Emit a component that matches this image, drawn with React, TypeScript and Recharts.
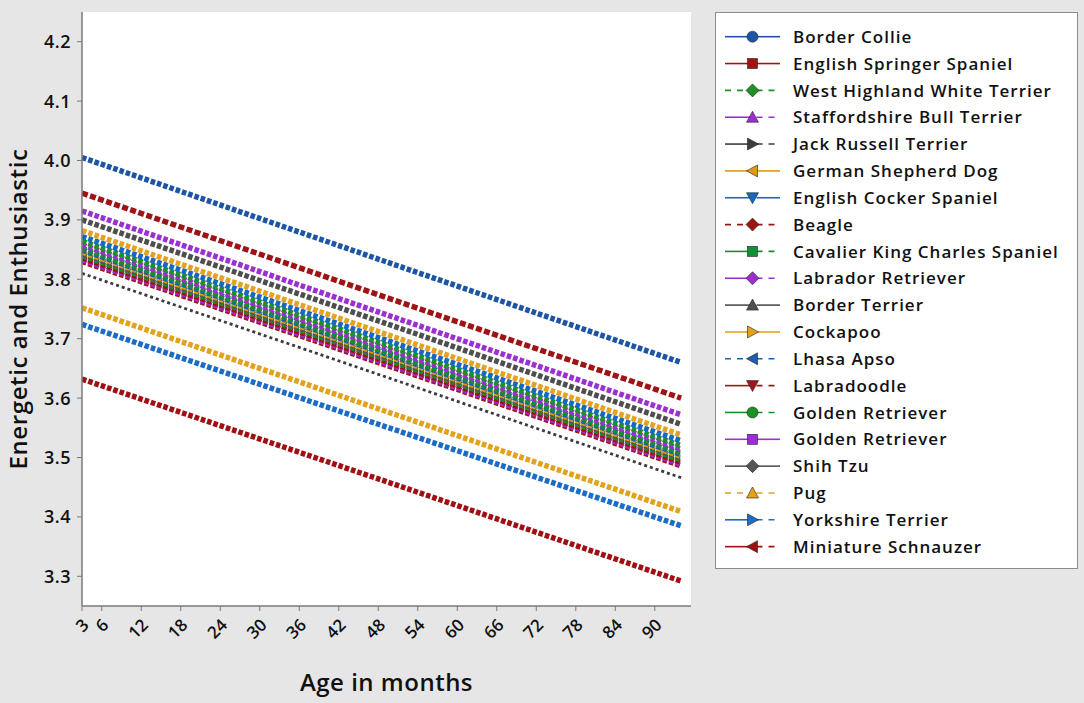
import React from 'react';
import { LineChart, Line, XAxis, YAxis, CartesianGrid, Legend } from 'recharts';

// ---- data ----
const AGES = [3, 48, 94];
const X_TICKS = [3, 6, 12, 18, 24, 30, 36, 42, 48, 54, 60, 66, 72, 78, 84, 90];
const Y_TICKS = [3.3, 3.4, 3.5, 3.6, 3.7, 3.8, 3.9, 4.0, 4.1, 4.2];

const borderCollie = [4.005, 3.834, 3.66];
const englishSpringer = [3.945, 3.774, 3.6];
const westHighland = [3.864, 3.694, 3.52];
const staffordshire = [3.915, 3.745, 3.572];
const jackRussell = [3.81, 3.64, 3.466];
const germanShepherd = [3.846, 3.676, 3.502];
const englishCocker = [3.872, 3.702, 3.528];
const beagle = [3.836, 3.666, 3.492];
const cavalier = [3.852, 3.682, 3.508];
const labrador = [3.858, 3.688, 3.514];
const borderTerrier = [3.9, 3.73, 3.556];
const cockapoo = [3.882, 3.712, 3.538];
const lhasaApso = [3.849, 3.679, 3.505];
const labradoodle = [3.83, 3.66, 3.486];
const goldenGreen = [3.84, 3.67, 3.496];
const goldenPurple = [3.833, 3.663, 3.489];
const shihTzu = [3.843, 3.673, 3.499];
const pug = [3.752, 3.582, 3.409];
const yorkshire = [3.724, 3.556, 3.385];
const miniSchnauzer = [3.632, 3.464, 3.292];

type Marker = 'circle' | 'square' | 'diamond' | 'up' | 'down' | 'left' | 'right';
type LegLine = 'solid' | 'dash' | 'solidDash';

interface S {
  key: string;
  name: string;
  color: string;
  values: number[];
  marker: Marker;
  leg: LegLine;
}

const SERIES: S[] = [
  { key: 's1', name: 'Border Collie', color: '#1d55a6', values: borderCollie, marker: 'circle', leg: 'solid' },
  { key: 's2', name: 'English Springer Spaniel', color: '#9e1414', values: englishSpringer, marker: 'square', leg: 'solid' },
  { key: 's3', name: 'West Highland White Terrier', color: '#1f8f2a', values: westHighland, marker: 'diamond', leg: 'dash' },
  { key: 's4', name: 'Staffordshire Bull Terrier', color: '#9b2fd2', values: staffordshire, marker: 'up', leg: 'solidDash' },
  { key: 's5', name: 'Jack Russell Terrier', color: '#3c3c3c', values: jackRussell, marker: 'right', leg: 'solidDash' },
  { key: 's6', name: 'German Shepherd Dog', color: '#e09a12', values: germanShepherd, marker: 'left', leg: 'solid' },
  { key: 's7', name: 'English Cocker Spaniel', color: '#1767c4', values: englishCocker, marker: 'down', leg: 'solid' },
  { key: 's8', name: 'Beagle', color: '#9a1616', values: beagle, marker: 'diamond', leg: 'dash' },
  { key: 's9', name: 'Cavalier King Charles Spaniel', color: '#178c34', values: cavalier, marker: 'square', leg: 'solidDash' },
  { key: 's10', name: 'Labrador Retriever', color: '#9a30cc', values: labrador, marker: 'diamond', leg: 'solidDash' },
  { key: 's11', name: 'Border Terrier', color: '#4e4e4e', values: borderTerrier, marker: 'up', leg: 'solid' },
  { key: 's12', name: 'Cockapoo', color: '#e3a321', values: cockapoo, marker: 'right', leg: 'solid' },
  { key: 's13', name: 'Lhasa Apso', color: '#1c5fae', values: lhasaApso, marker: 'left', leg: 'dash' },
  { key: 's14', name: 'Labradoodle', color: '#a0141e', values: labradoodle, marker: 'down', leg: 'solidDash' },
  { key: 's15', name: 'Golden Retriever', color: '#1b9121', values: goldenGreen, marker: 'circle', leg: 'solidDash' },
  { key: 's16', name: 'Golden Retriever', color: '#a12ad8', values: goldenPurple, marker: 'square', leg: 'solid' },
  { key: 's17', name: 'Shih Tzu', color: '#555555', values: shihTzu, marker: 'diamond', leg: 'solid' },
  { key: 's18', name: 'Pug', color: '#e3a11c', values: pug, marker: 'up', leg: 'dash' },
  { key: 's19', name: 'Yorkshire Terrier', color: '#1a6cc6', values: yorkshire, marker: 'right', leg: 'solidDash' },
  { key: 's20', name: 'Miniature Schnauzer', color: '#a00f12', values: miniSchnauzer, marker: 'left', leg: 'solidDash' },
];

// plotting order (drawn bottom to top)
const DRAW_ORDER = ['s20', 's19', 's18', 's5', 's14', 's16', 's8', 's15', 's17', 's6', 's13', 's9', 's10', 's3', 's7', 's12', 's11', 's4', 's2', 's1'];

const rows = AGES.map((age, i) => {
  const r: Record<string, number> = { age };
  SERIES.forEach((s) => {
    r[s.key] = s.values[i];
  });
  return r;
});

const FONT = "'Open Sans', 'Noto Sans', sans-serif";

const MarkerShape = ({ m, cx, cy, color }: { m: Marker; cx: number; cy: number; color: string }) => {
  const r = 5.5;
  const stroke = '#222';
  const sw = 0.6;
  switch (m) {
    case 'circle':
      return <circle cx={cx} cy={cy} r={r} fill={color} stroke={stroke} strokeWidth={sw} />;
    case 'square':
      return <rect x={cx - 5} y={cy - 5} width={10} height={10} fill={color} stroke={stroke} strokeWidth={sw} />;
    case 'diamond':
      return <polygon points={`${cx},${cy - 6.5} ${cx + 6.5},${cy} ${cx},${cy + 6.5} ${cx - 6.5},${cy}`} fill={color} stroke={stroke} strokeWidth={sw} />;
    case 'up':
      return <polygon points={`${cx},${cy - 6} ${cx + 6},${cy + 5} ${cx - 6},${cy + 5}`} fill={color} stroke={stroke} strokeWidth={sw} />;
    case 'down':
      return <polygon points={`${cx},${cy + 6} ${cx + 6},${cy - 5} ${cx - 6},${cy - 5}`} fill={color} stroke={stroke} strokeWidth={sw} />;
    case 'left':
      return <polygon points={`${cx - 6},${cy} ${cx + 5},${cy - 6} ${cx + 5},${cy + 6}`} fill={color} stroke={stroke} strokeWidth={sw} />;
    case 'right':
    default:
      return <polygon points={`${cx + 6},${cy} ${cx - 5},${cy - 6} ${cx - 5},${cy + 6}`} fill={color} stroke={stroke} strokeWidth={sw} />;
  }
};

const LegendBox = () => {
  const x0 = 9;
  const xm = 36.5;
  const x1 = 64;
  return (
    <div
      style={{
        width: 363,
        height: 557,
        boxSizing: 'border-box',
        border: '1px solid #8c8c8c',
        background: '#ffffff',
      }}
    >
      <svg width={361} height={555} style={{ display: 'block' }}>
        {SERIES.map((s, i) => {
          const cy = 23.7 + i * 26.84;
          const leftDash = s.leg === 'dash' ? '6 6' : undefined;
          const rightDash = s.leg === 'solid' ? undefined : '6 6';
          return (
            <g key={s.key}>
              <line x1={x0} x2={xm} y1={cy} y2={cy} stroke={s.color} strokeWidth={1.6} strokeDasharray={leftDash} />
              <line x1={xm + 4} x2={x1} y1={cy} y2={cy} stroke={s.color} strokeWidth={1.6} strokeDasharray={rightDash} />
              <MarkerShape m={s.marker} cx={xm} cy={cy} color={s.color} />
              <text x={77} y={cy} dy="0.36em" fontFamily={FONT} fontSize={17} fontWeight={600} letterSpacing={1} fill="#111">
                {s.name}
              </text>
            </g>
          );
        })}
      </svg>
    </div>
  );
};

const XTick = (props: any) => {
  const { x, y, payload } = props;
  return (
    <g transform={`translate(${x + 8},${y + 12})`}>
      <text x={0} y={0} textAnchor="end" transform="rotate(-45)" fontFamily={FONT} fontSize={17} fontWeight={600} fill="#111">
        {payload.value}
      </text>
    </g>
  );
};

const YTick = (props: any) => {
  const { x, y, payload } = props;
  return (
    <text x={x} y={y} dy="0.36em" textAnchor="end" fontFamily={FONT} fontSize={18} fontWeight={600} letterSpacing={0.5} fill="#111">
      {Number(payload.value).toFixed(1)}
    </text>
  );
};

const YTitle = (props: any) => {
  const vb = props.viewBox || { x: 0, y: 12, width: 82, height: 594 };
  const cx = vb.x + 27;
  const cy = vb.y + vb.height / 2;
  return (
    <text x={cx} y={cy} textAnchor="middle" transform={`rotate(-90, ${cx}, ${cy})`} fontFamily={FONT} fontSize={24} fontWeight={600} letterSpacing={0.6} fill="#111">
      Energetic and Enthusiastic
    </text>
  );
};

const XTitle = (props: any) => {
  const vb = props.viewBox || { x: 82, y: 606, width: 609, height: 97 };
  return (
    <text x={vb.x + vb.width / 2} y={vb.y + 85} textAnchor="middle" fontFamily={FONT} fontSize={24} fontWeight={600} letterSpacing={0.5} fill="#111">
      Age in months
    </text>
  );
};

const AXIS = '#7a7a7a';

export default function App() {
  const byKey: Record<string, S> = {};
  SERIES.forEach((s) => (byKey[s.key] = s));
  return (
    <div style={{ width: 1084, height: 703, background: '#e6e6e6', position: 'relative', overflow: 'hidden' }}>
      <style>{'body{margin:0;}'}</style>
      <LineChart width={1084} height={703} data={rows} margin={{ top: 12, right: 393, bottom: 0, left: 0 }}>
        <CartesianGrid horizontal={false} vertical={false} fill="#ffffff" />
        <XAxis
          dataKey="age"
          type="number"
          domain={[3, 95.5]}
          ticks={X_TICKS}
          interval={0}
          allowDataOverflow
          height={97}
          tick={<XTick />}
          tickSize={5}
          tickMargin={3}
          tickLine={{ stroke: AXIS }}
          axisLine={{ stroke: AXIS, strokeWidth: 1.5 }}
          label={{ content: <XTitle /> }}
        />
        <XAxis
          xAxisId="top"
          orientation="top"
          type="number"
          domain={[3, 95.5]}
          height={0}
          tick={false}
          tickLine={false}
          axisLine={{ stroke: AXIS, strokeWidth: 1.5 }}
        />
        <YAxis
          type="number"
          domain={[3.25, 4.25]}
          ticks={Y_TICKS}
          interval={0}
          allowDataOverflow
          width={82}
          tick={<YTick />}
          tickSize={5}
          tickMargin={6}
          tickLine={{ stroke: AXIS }}
          axisLine={{ stroke: AXIS, strokeWidth: 1.5 }}
          label={{ content: <YTitle /> }}
        />
        <YAxis
          yAxisId="right"
          orientation="right"
          type="number"
          domain={[3.25, 4.25]}
          width={0}
          tick={false}
          tickLine={false}
          axisLine={{ stroke: AXIS, strokeWidth: 1.5 }}
        />
        <Legend
          layout="vertical"
          align="center"
          verticalAlign="middle"
          content={<LegendBox />}
          wrapperStyle={{ left: 715, top: 12, width: 363, height: 557, right: 'auto', bottom: 'auto' }}
        />
        {DRAW_ORDER.map((k) => {
          const s = byKey[k];
          const thin = k === 's5';
          return (
            <Line
              key={k}
              dataKey={k}
              name={s.name}
              type="linear"
              stroke={s.color}
              strokeWidth={thin ? 2.8 : 5.5}
              strokeDasharray={thin ? '3 3' : k === 's2' ? '6 2.5' : '4.6 2'}
              dot={false}
              activeDot={false}
              isAnimationActive={false}
              legendType="none"
            />
          );
        })}
      </LineChart>
    </div>
  );
}
